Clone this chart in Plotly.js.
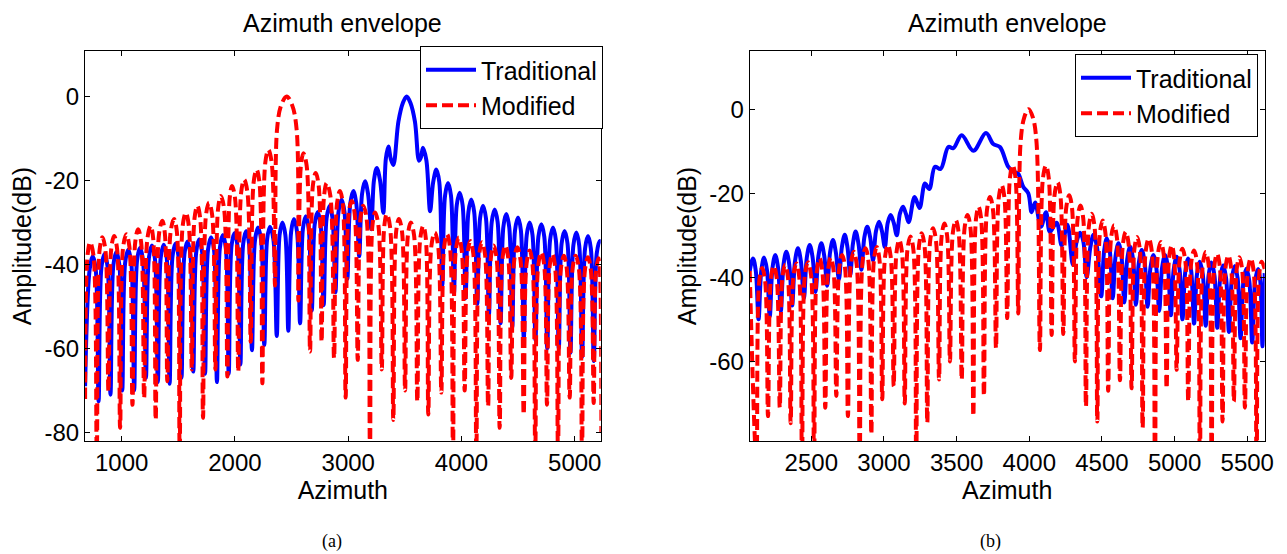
<!DOCTYPE html>
<html>
<head>
<meta charset="utf-8">
<script src="https://cdn.plot.ly/plotly-3.0.1.min.js"></script>
<style>
  html, body { margin: 0; padding: 0; background: #ffffff; }
  #chart { width: 1287px; height: 554px; }
</style>
</head>
<body>
<div id="chart"></div>
<script>
// ---------- Panel (a) (nulls, lobe shoulders, lobe peaks) ----------
const azimuthA_trad = [677, 718, 744, 770, 796, 822, 849, 875, 901, 927, 953, 979, 1005, 1031, 1058, 1084, 1110, 1136, 1162, 1188, 1214, 1240, 1267, 1293, 1319, 1345, 1371, 1397, 1423, 1449, 1475, 1501, 1528, 1554, 1580, 1606, 1632, 1658, 1684, 1710, 1736, 1762, 1789, 1815, 1841, 1867, 1893, 1919, 1945, 1970, 1996, 2022, 2048, 2073, 2099, 2124, 2150, 2177, 2204, 2231, 2259, 2284, 2309, 2339, 2369, 2394, 2419, 2445, 2471, 2496, 2521, 2548, 2575, 2600, 2625, 2651, 2678, 2704, 2730, 2756, 2783, 2809, 2836, 2861, 2887, 2914, 2942, 2967, 2992, 3018, 3045, 3071, 3097, 3122, 3148, 3175, 3203, 3227, 3252, 3281, 3310, 3332, 3354, 3376, 3398, 3443, 3483, 3516, 3549, 3589, 3625, 3642, 3660, 3690, 3723, 3750, 3778, 3804, 3830, 3855, 3881, 3907, 3933, 3958, 3984, 4010, 4036, 4061, 4086, 4112, 4139, 4164, 4190, 4216, 4242, 4267, 4293, 4319, 4345, 4370, 4395, 4421, 4448, 4473, 4499, 4524, 4550, 4576, 4602, 4627, 4653, 4679, 4705, 4731, 4757, 4782, 4808, 4833, 4859, 4884, 4910, 4936, 4962, 4988, 5014, 5039, 5065, 5091, 5117, 5142, 5168, 5194, 5220, 5229];
const ampA_trad = [-69, -41, -38, -41, -72.6, -40.5, -37.5, -40.5, -71, -40, -37, -40, -70, -39.5, -36.5, -39.5, -70, -39, -36, -39, -67, -38.5, -35.5, -38.5, -68, -38.3, -35.3, -38.3, -68.4, -38, -35, -38, -67, -37.5, -34.5, -37.5, -65.5, -37, -34, -37, -66, -36.5, -33.5, -36.5, -68, -36, -33, -36, -66, -35.5, -32.5, -35.5, -63.8, -35, -32, -35, -60.4, -34.2, -31.2, -34.2, -59.2, -34, -31, -34, -57, -33, -30, -33, -55.8, -32.2, -29.2, -32.2, -54, -31.5, -28.5, -31.5, -51, -30.5, -27.5, -30.5, -49.7, -29, -26, -29, -46.6, -27.5, -24.5, -27.5, -43.4, -25.5, -22.5, -25.5, -38, -23.2, -20.2, -23.2, -31.6, -20, -17, -20, -27.7, -14.9, -11.9, -14.9, -16.3, -6, -1.5, 0, -1.5, -6, -15.3, -14.5, -12.2, -15.2, -27.3, -20.4, -17.4, -20.4, -45, -23.6, -20.6, -23.6, -47, -25.9, -22.9, -25.9, -48, -27.5, -24.5, -27.5, -49.4, -29, -26, -29, -52, -29.9, -26.9, -29.9, -54, -31, -28, -31, -55, -31.8, -28.8, -31.8, -57.6, -33, -30, -33, -58, -33.4, -30.4, -33.4, -60, -34.2, -31.2, -34.2, -60, -35, -32, -35, -61, -35.4, -32.4, -35.4, -62, -36.2, -33.2, -36.2, -63, -37.4, -34.4, -35];

const azimuthA_mod = [677, 699, 721, 750, 780, 805, 830, 856, 883, 908, 933, 959, 986, 1013, 1041, 1068, 1095, 1120, 1145, 1171, 1198, 1227, 1256, 1278, 1300, 1330, 1359, 1381, 1403, 1432, 1462, 1487, 1512, 1539, 1566, 1592, 1619, 1643, 1668, 1693, 1718, 1744, 1771, 1799, 1827, 1851, 1875, 1904, 1933, 1953, 1974, 2001, 2029, 2055, 2081, 2110, 2139, 2165, 2191, 2216, 2242, 2268, 2295, 2324, 2354, 2371, 2409, 2457, 2504, 2545, 2560, 2582, 2604, 2633, 2663, 2688, 2713, 2739, 2765, 2787, 2810, 2842, 2875, 2901, 2927, 2952, 2977, 3004, 3031, 3057, 3084, 3108, 3133, 3162, 3192, 3214, 3237, 3266, 3296, 3318, 3340, 3369, 3398, 3423, 3448, 3475, 3502, 3527, 3552, 3581, 3610, 3636, 3663, 3685, 3707, 3735, 3764, 3793, 3822, 3847, 3872, 3898, 3925, 3950, 3976, 4002, 4028, 4053, 4078, 4104, 4131, 4156, 4181, 4208, 4235, 4259, 4284, 4310, 4337, 4362, 4387, 4413, 4439, 4466, 4493, 4521, 4549, 4575, 4602, 4626, 4651, 4678, 4705, 4730, 4755, 4778, 4801, 4826, 4852, 4878, 4904, 4929, 4955, 4981, 5008, 5036, 5064, 5090, 5117, 5142, 5167, 5188, 5210, 5222, 5235];
const ampA_mod = [-72, -37.7, -34.7, -37.7, -84, -36.5, -33.5, -36.5, -70.2, -36.2, -33.2, -36.2, -78.9, -35.8, -32.8, -35.8, -73.4, -34.6, -31.6, -34.6, -71.8, -33.8, -30.8, -33.8, -77, -32.6, -29.6, -32.6, -67.8, -32.2, -29.2, -32.2, -84, -30.7, -27.7, -30.7, -65, -29, -26, -29, -76.5, -28.3, -25.3, -28.3, -65, -26.7, -23.7, -26.7, -66.7, -24.3, -21.3, -24.3, -65.5, -22.8, -19.8, -22.8, -58.4, -20.4, -17.4, -20.4, -68.3, -15.7, -12.7, -15.7, -45, -8, -2, 0, -2, -8, -48.6, -16.5, -13.5, -16.5, -60.7, -21.2, -18.2, -21.2, -58.4, -23.6, -20.6, -23.6, -62.3, -25.5, -22.5, -25.5, -71.7, -27.9, -24.9, -27.9, -62.7, -29, -26, -29, -84, -30.6, -27.6, -30.6, -65, -31, -28, -31, -77, -32.2, -29.2, -32.2, -70, -33, -30, -33, -72.6, -33.8, -30.8, -33.8, -75.7, -35.4, -32.4, -35.4, -70.5, -35.8, -32.8, -35.8, -84, -36.6, -33.6, -36.6, -70, -37.4, -34.4, -37.4, -84, -37.7, -34.7, -37.7, -73.7, -38.5, -35.5, -38.5, -78.9, -38.5, -35.5, -38.5, -67, -38.9, -35.9, -38.9, -75.7, -39.7, -36.7, -39.7, -84, -40.1, -37.1, -40.1, -73.4, -40.5, -37.5, -40.5, -84, -40.9, -37.9, -40.9, -71.7, -40.9, -37.9, -40.9, -84, -41.3, -38.3, -41.3, -73, -41.5, -38.5, -41.5, -80];

// ---------- Panel (b) ----------
const azimuthB_trad = [2076, 2099, 2118, 2137, 2156, 2175, 2195, 2214, 2233, 2252, 2271, 2290, 2309, 2328, 2348, 2368, 2388, 2408, 2428, 2449, 2469, 2489, 2509, 2529, 2549, 2569, 2589, 2609, 2629, 2649, 2669, 2690, 2710, 2730, 2749, 2768, 2786, 2805, 2825, 2845, 2865, 2885, 2905, 2925, 2945, 2966, 2986, 3006, 3026, 3046, 3067, 3088, 3110, 3131, 3150, 3170, 3211, 3245, 3282, 3312, 3351, 3390, 3443, 3477, 3535, 3615, 3702, 3752, 3798, 3855, 3890, 3922, 3959, 3993, 4016, 4040, 4080, 4115, 4142, 4188, 4223, 4262, 4300, 4326, 4350, 4372, 4395, 4420, 4442, 4466, 4495, 4515, 4534, 4554, 4574, 4594, 4614, 4634, 4654, 4674, 4694, 4714, 4734, 4754, 4774, 4794, 4814, 4834, 4854, 4874, 4894, 4914, 4934, 4954, 4974, 4994, 5014, 5034, 5054, 5074, 5094, 5114, 5134, 5154, 5174, 5194, 5214, 5234, 5254, 5274, 5294, 5314, 5334, 5354, 5374, 5394, 5414, 5434, 5454, 5474, 5494, 5514, 5534, 5554, 5574, 5590, 5605, 5620];
const ampB_trad = [-38.5, -35.5, -38.5, -50, -38.3, -35.3, -38.3, -49.3, -37.7, -34.7, -37.7, -48, -36.9, -33.9, -36.9, -46.7, -36.1, -33.1, -36.1, -45, -35.3, -32.3, -35.3, -43.5, -34.9, -31.9, -34.9, -42, -34.1, -31.1, -34.1, -40.5, -32.9, -29.9, -32.9, -39.5, -32.1, -29.1, -32.1, -38.2, -30.5, -28, -30.5, -36, -29, -26.8, -29, -32.8, -27, -25.2, -27, -30, -24.8, -23.2, -24.8, -26.9, -20.9, -23.5, -17.7, -19, -13.7, -14.2, -9, -9.3, -6.2, -9.9, -5.7, -8.3, -9, -13.7, -14.9, -15.3, -18.5, -20, -24.5, -22.2, -28, -24.5, -29.2, -27, -32.4, -27.5, -37, -31.5, -29.4, -31.5, -40, -32.9, -29.9, -32.9, -44.5, -33.7, -30.7, -33.7, -45, -34.9, -31.9, -34.9, -46, -35.7, -32.7, -35.7, -46.5, -36.5, -33.5, -36.5, -47, -37.7, -34.7, -37.7, -48, -37.7, -34.7, -37.7, -49, -38.1, -35.1, -38.1, -50, -38.5, -35.5, -38.5, -51, -39.3, -36.3, -39.3, -51.5, -39.5, -36.5, -39.5, -52, -40.1, -37.1, -40.1, -53, -40.3, -37.3, -40.3, -54.5, -40.9, -37.9, -40.9, -55.5, -41, -38, -41, -56.4, -39];

const azimuthB_mod = [2076, 2122, 2142, 2162, 2182, 2202, 2222, 2242, 2262, 2283, 2301, 2320, 2339, 2358, 2377, 2397, 2416, 2436, 2456, 2477, 2498, 2519, 2538, 2557, 2576, 2596, 2615, 2634, 2653, 2672, 2692, 2712, 2732, 2752, 2772, 2792, 2812, 2833, 2853, 2873, 2893, 2913, 2931, 2950, 2969, 2988, 3007, 3027, 3047, 3067, 3086, 3105, 3124, 3143, 3162, 3182, 3202, 3222, 3241, 3260, 3279, 3298, 3318, 3338, 3358, 3379, 3397, 3416, 3435, 3454, 3474, 3494, 3514, 3535, 3555, 3575, 3595, 3615, 3633, 3651, 3669, 3688, 3709, 3730, 3750, 3771, 3790, 3810, 3829, 3848, 3867, 3886, 3905, 3924, 3940, 3965, 3995, 4025, 4050, 4073, 4094, 4115, 4134, 4154, 4174, 4195, 4214, 4234, 4254, 4275, 4294, 4314, 4333, 4352, 4371, 4390, 4410, 4430, 4449, 4468, 4486, 4505, 4524, 4543, 4563, 4583, 4603, 4624, 4644, 4664, 4684, 4704, 4723, 4742, 4761, 4780, 4801, 4822, 4843, 4865, 4885, 4905, 4925, 4945, 4962, 4980, 4997, 5014, 5034, 5054, 5074, 5094, 5114, 5134, 5154, 5174, 5194, 5214, 5234, 5255, 5273, 5292, 5311, 5330, 5350, 5370, 5389, 5408, 5427, 5446, 5465, 5484, 5504, 5524, 5544, 5564, 5582, 5600, 5620];
const ampB_mod = [-38.5, -84, -40.8, -37.8, -40.8, -73, -40.3, -37.3, -40.3, -71, -40, -37, -40, -74.7, -39.7, -36.7, -39.7, -84, -39.4, -36.4, -39.4, -84, -38.5, -35.5, -38.5, -71, -38.3, -35.3, -38.3, -68.2, -37.7, -34.7, -37.7, -73, -36.9, -33.9, -36.9, -84, -36.1, -33.1, -36.1, -77.3, -35.8, -32.8, -35.8, -69, -35.3, -32.3, -35.3, -65.9, -34.1, -31.1, -34.1, -70, -33.3, -30.3, -33.3, -84, -32.5, -29.5, -32.5, -74.6, -31.3, -28.3, -31.3, -64.3, -30.2, -27.2, -30.2, -60, -29.4, -26.4, -29.4, -64.3, -28.2, -25.2, -28.2, -73, -26.2, -23.2, -26.2, -68.2, -23.9, -20.9, -23.9, -56.8, -21.1, -18.1, -21.1, -49.7, -16.3, -13.3, -16.3, -48.6, -8, -2, 0, -2, -8, -57.3, -16.4, -13.4, -16.4, -53.7, -20.4, -17.4, -20.4, -53.5, -23.5, -20.5, -23.5, -60, -25.9, -22.9, -25.9, -70.7, -27.9, -24.9, -27.9, -74.3, -29.5, -26.5, -29.5, -67, -30.6, -27.6, -30.6, -64.5, -32.2, -29.2, -32.2, -66.4, -33.4, -30.4, -33.4, -75.8, -33.8, -30.8, -33.8, -84, -34.6, -31.6, -34.6, -66.4, -35.4, -32.4, -35.4, -62, -36.2, -33.2, -36.2, -69.5, -36.6, -33.6, -36.6, -84, -37, -34, -37, -84, -37.4, -34.4, -37.4, -74.3, -37.8, -34.8, -37.8, -69.5, -38.2, -35.2, -38.2, -71, -38.5, -35.5, -38.5, -84, -39.3, -36.3, -38];

// ---------- Tick labels / titles ----------
const xTicksA = [1000, 2000, 3000, 4000, 5000];
const xTicksB = [2500, 3000, 3500, 4000, 4500, 5000, 5500];
const yTicksA = [-80, -60, -40, -20, 0];
const yTickTextA = ["-80", "-60", "-40", "-20", "0"];
const yTicksB = [-60, -40, -20, 0];
const yTickTextB = ["-60", "-40", "-20", "0"];
const seriesNames = ["Traditional", "Modified"];
const panelTitle = "Azimuth envelope";
const xTitle = "Azimuth";
const yTitle = "Amplitude(dB)";
const panelLabels = ["(a)", "(b)"];

const W = 1287, H = 554;
const FONT = "Liberation Sans, Arial, sans-serif";
const px = v => v / W;
const py = v => 1 - v / H;

const blueLine = { color: "#0000ff", width: 4, shape: "spline", smoothing: 1 };
const redLine = { color: "#ff0000", width: 4, dash: "11px,5px", shape: "spline", smoothing: 1 };

const traces = [
  { x: azimuthA_trad, y: ampA_trad, name: seriesNames[0], type: "scatter", mode: "lines",
    line: blueLine, xaxis: "x", yaxis: "y", legend: "legend" },
  { x: azimuthA_mod, y: ampA_mod, name: seriesNames[1], type: "scatter", mode: "lines",
    line: redLine, xaxis: "x", yaxis: "y", legend: "legend" },
  { x: azimuthB_trad, y: ampB_trad, name: seriesNames[0], type: "scatter", mode: "lines",
    line: blueLine, xaxis: "x2", yaxis: "y2", legend: "legend2" },
  { x: azimuthB_mod, y: ampB_mod, name: seriesNames[1], type: "scatter", mode: "lines",
    line: redLine, xaxis: "x2", yaxis: "y2", legend: "legend2" }
];

const axisCommon = {
  showline: true, linecolor: "#000", linewidth: 1, mirror: "ticks",
  ticks: "inside", ticklen: 5, tickcolor: "#000", tickwidth: 1,
  showgrid: false, zeroline: false, automargin: false,
  tickfont: { family: FONT, size: 24, color: "#000" }
};
const titleFont = { family: FONT, size: 25, color: "#000" };

const yDomain = [1 - 441.3 / H, 1 - 50.7 / H];

const legendCommon = {
  xanchor: "right", yanchor: "top", bgcolor: "#ffffff",
  bordercolor: "#000", borderwidth: 1,
  font: { family: FONT, size: 25, color: "#000" },
  itemwidth: 50, tracegroupgap: 0, itemclick: false, itemdoubleclick: false
};

const layout = {
  width: W, height: H,
  margin: { l: 0, r: 0, t: 0, b: 0, pad: 0 },
  paper_bgcolor: "#ffffff", plot_bgcolor: "#ffffff",
  showlegend: true,
  xaxis: Object.assign({}, axisCommon, {
    domain: [px(85), px(600.7)], range: [676, 5229], tickvals: xTicksA,
    anchor: "y", title: { text: xTitle, font: titleFont, standoff: 6 }
  }),
  yaxis: Object.assign({}, axisCommon, {
    domain: yDomain, range: [-82.1, 10.9], tickvals: yTicksA, ticktext: yTickTextA,
    anchor: "x", title: { text: yTitle, font: titleFont, standoff: 5 }
  }),
  xaxis2: Object.assign({}, axisCommon, {
    domain: [px(749.7), px(1264.7)], range: [2076, 5620], tickvals: xTicksB,
    anchor: "y2", title: { text: xTitle, font: titleFont, standoff: 6 }
  }),
  yaxis2: Object.assign({}, axisCommon, {
    domain: yDomain, range: [-79, 13.9], tickvals: yTicksB, ticktext: yTickTextB,
    anchor: "x2", title: { text: yTitle, font: titleFont, standoff: 5 }
  }),
  legend: Object.assign({}, legendCommon, { x: px(603), y: py(46) }),
  legend2: Object.assign({}, legendCommon, { x: px(1258), y: py(54) }),
  annotations: [
    { text: panelTitle, xref: "paper", yref: "paper", x: px(342.9), y: py(23), xanchor: "center", yanchor: "middle",
      showarrow: false, font: titleFont },
    { text: panelTitle, xref: "paper", yref: "paper", x: px(1007.2), y: py(23), xanchor: "center", yanchor: "middle",
      showarrow: false, font: titleFont },
    { text: panelLabels[0], xref: "paper", yref: "paper", x: px(331.5), y: py(541), xanchor: "center", yanchor: "middle",
      showarrow: false, font: { family: "Liberation Serif, Times New Roman, serif", size: 18, color: "#000" } },
    { text: panelLabels[1], xref: "paper", yref: "paper", x: px(990.5), y: py(541), xanchor: "center", yanchor: "middle",
      showarrow: false, font: { family: "Liberation Serif, Times New Roman, serif", size: 18, color: "#000" } }
  ]
};

Plotly.newPlot("chart", traces, layout, { displayModeBar: false, staticPlot: true });
</script>
</body>
</html>
